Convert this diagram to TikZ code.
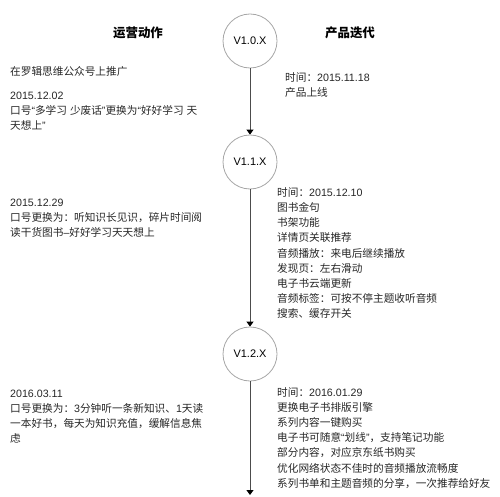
\documentclass[tikz,border=0pt]{standalone}
\usepackage{fontspec}
\setmainfont{Noto Sans CJK SC}
\newfontfamily\latinfont{Liberation Sans}
\newcommand{\en}[1]{{\latinfont #1}}
\usetikzlibrary{arrows.meta}

\begin{document}
\begin{tikzpicture}[x=1bp,y=-1bp,
  version/.style={circle,draw=gray!70,line width=0.8bp,minimum size=54bp,inner sep=0pt,
    font=\fontsize{11}{13}\selectfont\latinfont},
  heading/.style={font=\fontsize{12.5}{15}\selectfont\bfseries},
  notes/.style={anchor=base west,align=left,inner sep=0pt,text=black!85,
    font=\fontsize{10.7}{15.2}\selectfont},
  flow/.style={draw=gray!60!black,line width=1bp,-{Triangle[width=7bp,length=5bp,black]}}]
\useasboundingbox (0,0) rectangle (500,497);

% column headings
\node[heading] (ops) at (138,33) {运营动作};
\node[heading] (prod) at (350,33) {产品迭代};

% versions
\node[version] (v10) at (250,41) {V1.0.X};
\node[version] (v11) at (250,162) {V1.1.X};
\node[version] (v12) at (250,354) {V1.2.X};
\coordinate (end) at (250,495);

\draw[flow] (v10) -- (v11);
\draw[flow] (v11) -- (v12);
\draw[flow] (v12) -- (end);

% operations (placed at the baseline of the last line)
\node[notes] (op1) at (10,76) {在罗辑思维公众号上推广};
\node[notes] (op2) at (10,129.4) {\en{2015.12.02}\\
  口号\en{“}多学习\en{ }少废话\en{”}更换为\en{“}好好学习\en{ }天\\
  天想上\en{”}};
\node[notes] (op3) at (10,236.4) {\en{2015.12.29}\\
  口号更换为：听知识长见识，碎片时间阅\\
  读干货图书\en{–}好好学习天天想上};
\node[notes] (op4) at (10,442.6) {\en{2016.03.11}\\
  口号更换为：\en{3}分钟听一条新知识、\en{1}天读\\
  一本好书，每天为知识充值，缓解信息焦\\
  虑};

% product iterations
\node[notes] (pr1) at (285,96.2) {时间：\en{2015.11.18}\\
  产品上线};
\node[notes] (pr2) at (277,317.6) {时间：\en{2015.12.10}\\
  图书金句\\
  书架功能\\
  详情页关联推荐\\
  音频播放：来电后继续播放\\
  发现页：左右滑动\\
  电子书云端更新\\
  音频标签：可按不停主题收听音频\\
  搜索、缓存开关};
\node[notes] (pr3) at (277,487.2) {时间：\en{2016.01.29}\\
  更换电子书排版引擎\\
  系列内容一键购买\\
  电子书可随意\en{“}划线\en{”}，支持笔记功能\\
  部分内容，对应京东纸书购买\\
  优化网络状态不佳时的音频播放流畅度\\
  系列书单和主题音频的分享，一次推荐给好友};
\end{tikzpicture}
\end{document}
